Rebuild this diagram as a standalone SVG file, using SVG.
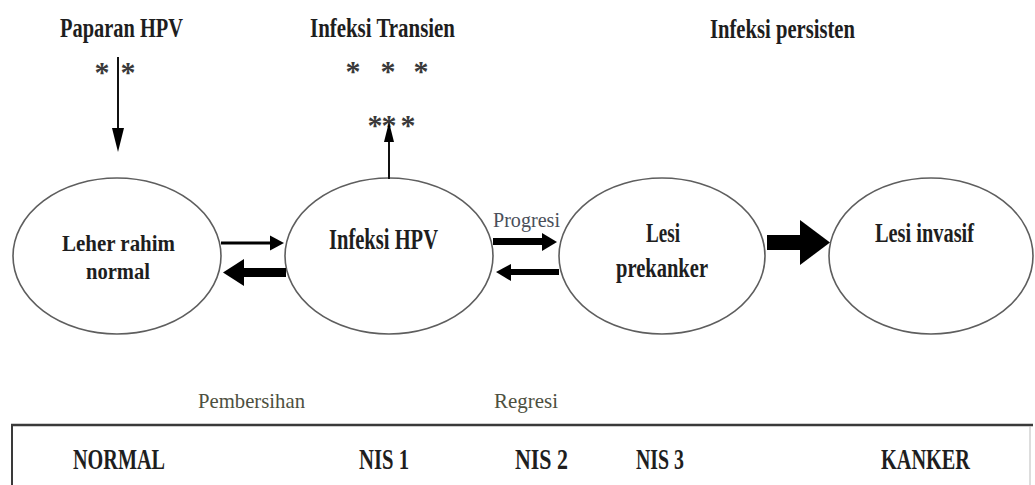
<svg xmlns="http://www.w3.org/2000/svg" width="1035" height="485" viewBox="0 0 1035 485">
<style>
.t{font-family:"Liberation Serif","Times New Roman",serif;font-weight:bold;fill:#1e1e1e}
.n{font-family:"Liberation Serif","Times New Roman",serif;font-weight:normal}
.star{font-family:"Liberation Serif","Times New Roman",serif;font-weight:bold;font-size:30px;fill:#3a3a3a;text-anchor:middle}
.ell{fill:#fff;stroke:#5e5e5e;stroke-width:1.6}
.ln{stroke:#111;stroke-width:2;fill:none}
.ah{fill:#000}
</style>
<rect width="1035" height="485" fill="#fff"/>

<g id="label-paparan">
<text class="t" x="60" y="37" font-size="27" textLength="123" lengthAdjust="spacingAndGlyphs">Paparan HPV</text>
<text class="star" x="102" y="82">*</text>
<text class="star" x="128" y="82">*</text>
</g>
<g id="label-transien">
<text class="t" x="310" y="37" font-size="27" textLength="145" lengthAdjust="spacingAndGlyphs">Infeksi Transien</text>
<text class="star" x="353" y="81">*</text>
<text class="star" x="388" y="81">*</text>
<text class="star" x="421" y="81">*</text>
<text class="star" x="375" y="135">*</text>
<text class="star" x="389" y="135">*</text>
<text class="star" x="408" y="135">*</text>
</g>
<g id="label-persisten">
<text class="t" x="710" y="38" font-size="27" textLength="145" lengthAdjust="spacingAndGlyphs">Infeksi persisten</text>
</g>

<g id="node-normal">
<ellipse class="ell" cx="117" cy="256" rx="104" ry="78"/>
<text class="t" x="62" y="251" font-size="24" textLength="113" lengthAdjust="spacingAndGlyphs">Leher rahim</text>
<text class="t" x="86" y="279" font-size="24" textLength="64" lengthAdjust="spacingAndGlyphs">normal</text>
</g>
<g id="node-hpv">
<ellipse class="ell" cx="389" cy="256" rx="104" ry="78"/>
<text class="t" x="329" y="249" font-size="29" textLength="109" lengthAdjust="spacingAndGlyphs">Infeksi HPV</text>
</g>
<g id="node-prekanker">
<ellipse class="ell" cx="662" cy="256" rx="103" ry="78"/>
<text class="t" x="646" y="242" font-size="28" textLength="34" lengthAdjust="spacingAndGlyphs">Lesi</text>
<text class="t" x="616" y="277" font-size="28" textLength="92" lengthAdjust="spacingAndGlyphs">prekanker</text>
</g>
<g id="node-invasif">
<ellipse class="ell" cx="931" cy="256" rx="102" ry="78"/>
<text class="t" x="875" y="242" font-size="28" textLength="99" lengthAdjust="spacingAndGlyphs">Lesi invasif</text>
</g>

<g id="connectors">
<line class="ln" x1="118" y1="57" x2="118" y2="132"/>
<polygon class="ah" points="112,128 124,128 118,152"/>
<line class="ln" x1="389" y1="179" x2="389" y2="138"/>
<polygon class="ah" points="384,142 394,142 389,122"/>
<line x1="221" y1="243" x2="272" y2="243" stroke="#000" stroke-width="3"/>
<polygon class="ah" points="270,235.5 270,250.5 284,243"/>
<rect class="ah" x="242" y="268" width="44" height="9"/>
<polygon class="ah" points="244,259 244,286 223,272.5"/>
<rect class="ah" x="493" y="238" width="50" height="7"/>
<polygon class="ah" points="542,233 542,251 557,242"/>
<rect class="ah" x="509" y="269" width="50" height="6"/>
<polygon class="ah" points="511,264 511,281 496,272"/>
<rect class="ah" x="767" y="235" width="34" height="15"/>
<polygon class="ah" points="800,220 800,265 830,242.5"/>
</g>

<g id="labels">
<text class="n" x="493" y="227" font-size="21" fill="#4a4f5a" textLength="67" lengthAdjust="spacingAndGlyphs">Progresi</text>
<text class="n" x="198" y="408" font-size="22" fill="#4d5040" textLength="107" lengthAdjust="spacingAndGlyphs">Pembersihan</text>
<text class="n" x="494" y="408" font-size="22" fill="#4d5040" textLength="64" lengthAdjust="spacingAndGlyphs">Regresi</text>
</g>

<g id="stage-bar">
<line x1="11" y1="425" x2="1033" y2="425" stroke="#3a3a3a" stroke-width="2.5"/>
<line x1="12" y1="424" x2="12" y2="485" stroke="#3a3a3a" stroke-width="2"/>
<line x1="1030" y1="426" x2="1030" y2="485" stroke="#bbb" stroke-width="1"/>
<text class="t" x="73" y="469" font-size="30" textLength="92" lengthAdjust="spacingAndGlyphs">NORMAL</text>
<text class="t" x="359" y="469" font-size="30" textLength="50" lengthAdjust="spacingAndGlyphs">NIS 1</text>
<text class="t" x="515" y="469" font-size="30" textLength="53" lengthAdjust="spacingAndGlyphs">NIS 2</text>
<text class="t" x="636" y="469" font-size="30" textLength="48" lengthAdjust="spacingAndGlyphs">NIS 3</text>
<text class="t" x="881" y="469" font-size="30" textLength="89" lengthAdjust="spacingAndGlyphs">KANKER</text>
</g>
</svg>
